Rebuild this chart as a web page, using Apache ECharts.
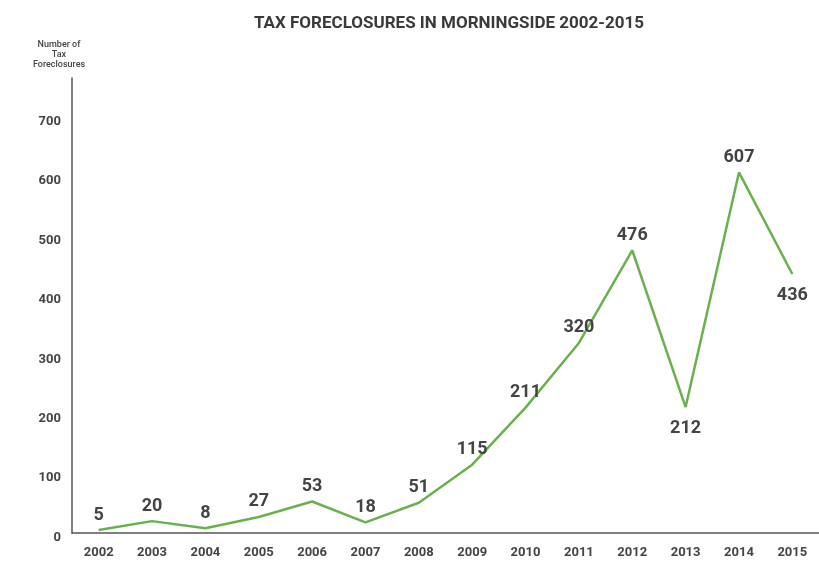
<!DOCTYPE html>
<html>
<head>
<meta charset="utf-8">
<script src="https://cdn.jsdelivr.net/npm/echarts@6/dist/echarts.min.js"></script>
<style>
  html, body { margin: 0; padding: 0; background: #fff; }
  #chart { width: 819px; height: 562px; }
</style>
</head>
<body>
<div id="chart"></div>
<script>
  // data
  var years = ['2002', '2003', '2004', '2005', '2006', '2007', '2008', '2009', '2010', '2011', '2012', '2013', '2014', '2015'];
  var foreclosures = [5, 20, 8, 27, 53, 18, 51, 115, 211, 320, 476, 212, 607, 436];
  // labels that sit under the line instead of above
  var labelsBelow = ['2013', '2015'];

  var textColor = '#444';
  var font = 'Roboto';

  var chart = echarts.init(document.getElementById('chart'));

  var option = {
    animation: false,
    title: [
      {
        text: 'TAX FORECLOSURES IN MORNINGSIDE 2002-2015',
        left: 444,
        top: 10,
        textAlign: 'center',
        textStyle: { fontFamily: font, fontSize: 17, fontWeight: 'bold', color: '#3a3a3a' }
      },
      {
        text: 'Number of\nTax\nForeclosures',
        left: 54,
        top: 35,
        textAlign: 'center',
        textStyle: { fontFamily: font, fontSize: 9, fontWeight: 500, color: textColor, lineHeight: 10 }
      }
    ],
    grid: {
      left: 72,
      right: -5,
      top: 78,
      bottom: 29
    },
    xAxis: {
      type: 'category',
      data: years,
      boundaryGap: true,
      axisLine: { lineStyle: { color: '#555', width: 1.5 } },
      axisTick: { show: false },
      axisLabel: {
        interval: 0,
        margin: 13,
        color: textColor,
        fontFamily: font,
        fontSize: 13,
        fontWeight: 'bold'
      }
    },
    yAxis: {
      type: 'value',
      min: 0,
      max: 766,
      interval: 100,
      splitLine: { show: false },
      axisTick: { show: false },
      axisLine: { show: true, lineStyle: { color: '#555', width: 1.5 } },
      axisLabel: {
        margin: 11,
        color: textColor,
        fontFamily: font,
        fontSize: 13,
        fontWeight: 'bold',
        formatter: function (v) {
          // tick labels in the original sit a few px below their ticks
          return v % 100 === 0 ? '{t|' + v + '}' : '';
        },
        rich: {
          t: {
            color: textColor,
            fontFamily: font,
            fontSize: 13,
            fontWeight: 'bold',
            padding: [9, 0, 0, 0]
          }
        }
      }
    },
    series: [
      {
        type: 'line',
        data: foreclosures.map(function (v, i) {
          var below = labelsBelow.indexOf(years[i]) >= 0;
          return {
            value: v,
            label: { show: true, position: below ? 'bottom' : 'top', distance: below ? 11 : 5 }
          };
        }),
        // invisible symbols so the value labels get drawn
        symbol: 'circle',
        symbolSize: 2,
        showSymbol: true,
        lineStyle: { color: '#6ab04f', width: 2.5 },
        itemStyle: { color: 'rgba(0,0,0,0)' },
        label: {
          show: true,
          color: textColor,
          fontFamily: font,
          fontSize: 18,
          fontWeight: 'bold'
        },
        labelLayout: { hideOverlap: false }
      }
    ]
  };

  chart.setOption(option);
</script>
</body>
</html>
